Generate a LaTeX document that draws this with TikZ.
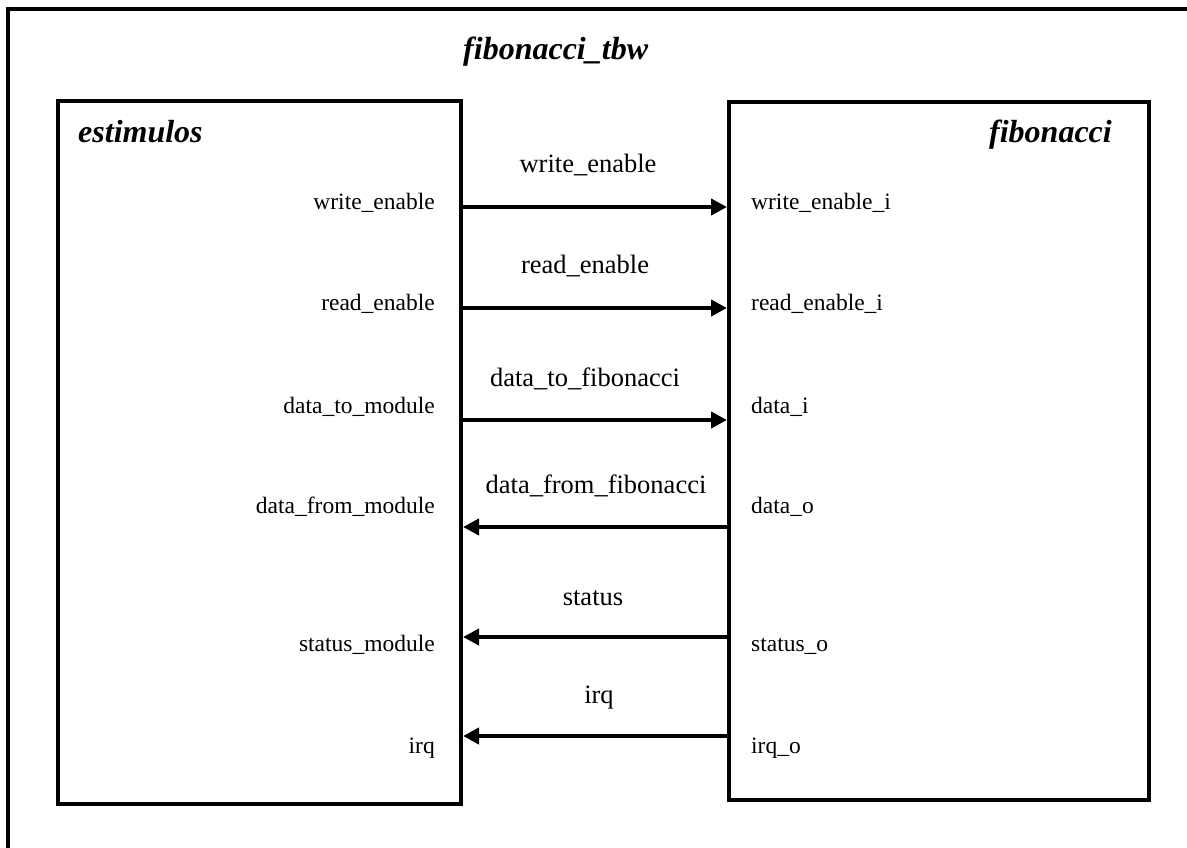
\documentclass[tikz,border=0pt]{standalone}
\usepackage{fontspec}
\setmainfont{Liberation Serif}
\usetikzlibrary{arrows.meta}
\tikzset{
  blockbox/.style={draw, line width=4pt, rectangle, inner sep=0pt},
  portl/.style={inner sep=0pt, anchor=base east, font=\fontsize{23.5}{28}\selectfont},
  portr/.style={inner sep=0pt, anchor=base west, font=\fontsize{23.5}{28}\selectfont},
  siglabel/.style={inner sep=0pt, anchor=base, font=\fontsize{26.5}{32}\selectfont},
  titlelabel/.style={inner sep=0pt, font=\fontsize{32}{38}\selectfont\bfseries\itshape},
  sigline/.style={line width=4pt, -{Triangle[length=16pt,width=16pt]}},
}
\begin{document}
\begin{tikzpicture}[x=1pt,y=-1pt]
\useasboundingbox (0,0) rectangle (1187,847);
\clip (0,0) rectangle (1187,847);
% outer frame (only top and left visible)
\draw[line width=4pt] (8,860) -- (8,9.3) -- (1200,9.3);
\node[titlelabel, anchor=base west] (title) at (463,59) {fibonacci\_tbw};
% blocks
\node[blockbox, minimum width=403.5pt, minimum height=702.4pt] (L) at (259.25,452.5) {};
\node[blockbox, minimum width=419.7pt, minimum height=697.5pt] (R) at (938.85,450.9) {};
\node[titlelabel, anchor=base west] (Lname) at (78,142) {estimulos};
\node[titlelabel, anchor=base east] (Rname) at (1112,142) {fibonacci};
% left ports
\node[portl] (lw) at (435,209) {write\_enable};
\node[portl] (lr) at (435,310) {read\_enable};
\node[portl] (ldt) at (435,413) {data\_to\_module};
\node[portl] (ldf) at (435,513) {data\_from\_module};
\node[portl] (ls) at (435,651) {status\_module};
\node[portl] (li) at (435,753) {irq};
% right ports
\node[portr] (rw) at (751,209) {write\_enable\_i};
\node[portr] (rr) at (751,310) {read\_enable\_i};
\node[portr] (rdi) at (751,413) {data\_i};
\node[portr] (rdo) at (751,513) {data\_o};
\node[portr] (rs) at (751,651) {status\_o};
\node[portr] (ri) at (751,753) {irq\_o};
% signal labels
\node[siglabel] (sw) at (588,172) {write\_enable};
\node[siglabel] (sr) at (585,273) {read\_enable};
\node[siglabel] (sdt) at (585,386) {data\_to\_fibonacci};
\node[siglabel] (sdf) at (596,493) {data\_from\_fibonacci};
\node[siglabel] (ss) at (593,605) {status};
\node[siglabel] (si) at (599,703) {irq};
% arrow levels
\coordinate (y1) at (0,207);
\coordinate (y2) at (0,308);
\coordinate (y3) at (0,420);
\coordinate (y4) at (0,527);
\coordinate (y5) at (0,637);
\coordinate (y6) at (0,736);
\draw[sigline] (L.east |- y1) -- (R.west |- y1);
\draw[sigline] (L.east |- y2) -- (R.west |- y2);
\draw[sigline] (L.east |- y3) -- (R.west |- y3);
\draw[sigline] (R.west |- y4) -- (L.east |- y4);
\draw[sigline] (R.west |- y5) -- (L.east |- y5);
\draw[sigline] (R.west |- y6) -- (L.east |- y6);
\end{tikzpicture}
\end{document}
